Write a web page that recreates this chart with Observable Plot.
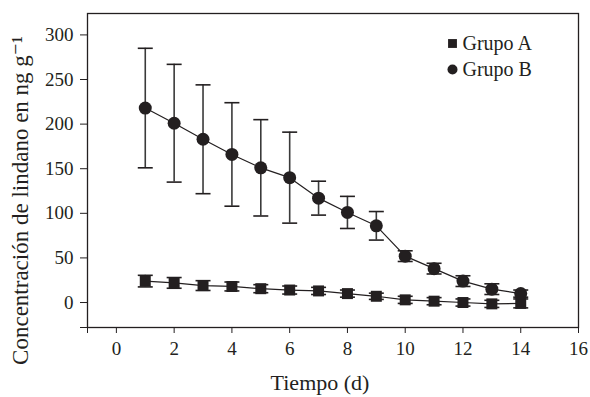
<!DOCTYPE html>
<html>
<head>
<meta charset="utf-8">
<script src="https://cdn.jsdelivr.net/npm/d3@7"></script>
<script src="https://cdn.jsdelivr.net/npm/@observablehq/plot@0.6"></script>
<style>
  html, body { margin: 0; padding: 0; background: #fff; }
  #chart { width: 590px; height: 397px; }
  #chart svg, #chart svg text { font-family: "Liberation Serif", "DejaVu Serif", serif !important; }
</style>
</head>
<body>
<div id="chart"></div>
<script>
const days = [1, 2, 3, 4, 5, 6, 7, 8, 9, 10, 11, 12, 13, 14];
const grupoAMean = [24, 22, 19, 18, 15.5, 14, 13, 10, 7, 3, 1.5, 0, -1.5, -1];
const grupoAErr  = [6.5, 6, 5.5, 5, 4.5, 4.5, 4, 4, 3.5, 4, 4, 4, 4, 5];
const grupoBMean = [218, 201, 183, 166, 151, 140, 117, 101, 86, 52, 38, 24, 15, 10];
const grupoBErr  = [67, 66, 61, 58, 54, 51, 19, 18, 16, 6, 6, 6, 6, 4];
const xTicks = [-1, 0, 2, 4, 6, 8, 10, 12, 14, 16];
const yTicks = [-28, 0, 50, 100, 150, 200, 250, 300];
const legendLabels = ["Grupo A", "Grupo B"];
const xLabel = "Tiempo (d)";
const yLabel = "Concentración de lindano en ng g\u207B\u00B9";

const ink = "#231f20";
const barInk = "#3a3a3a";
const font = "Liberation Serif";

const A = days.map((d, i) => ({d, m: grupoAMean[i], e: grupoAErr[i]}));
const B = days.map((d, i) => ({d, m: grupoBMean[i], e: grupoBErr[i]}));

const cap = {
  draw(ctx, size) {
    const r = Math.sqrt(size / Math.PI);
    ctx.moveTo(-r, 0);
    ctx.lineTo(r, 0);
  }
};

function errMarks(data, capR) {
  return [
    Plot.ruleX(data, {x: "d", y1: d => d.m - d.e, y2: d => d.m + d.e, stroke: barInk, strokeWidth: 1.6}),
    Plot.dot(data, {x: "d", y: d => d.m + d.e, symbol: cap, r: capR, stroke: ink, strokeWidth: 1.6, fill: "none"}),
    Plot.dot(data, {x: "d", y: d => d.m - d.e, symbol: cap, r: capR, stroke: ink, strokeWidth: 1.6, fill: "none"})
  ];
}

const chart = Plot.plot({
  width: 590,
  height: 397,
  marginLeft: 87,
  marginRight: 12,
  marginTop: 13,
  marginBottom: 70,
  style: {fontFamily: font, fontSize: "18px", color: ink, background: "#fff", overflow: "visible"},
  x: {domain: [-1, 16]},
  y: {domain: [-28, 324]},
  marks: [
    Plot.axisX({ticks: xTicks, tickSize: 6, tickPadding: 8, tickFormat: d => d < 0 ? "" : d, label: null, stroke: ink, fontSize: 19, fontFamily: font}),
    Plot.axisY({ticks: yTicks, tickSize: 7, tickPadding: 7, tickFormat: d => d < 0 ? "" : d, label: null, stroke: ink, fontSize: 19, fontFamily: font}),
    Plot.frame({stroke: ink, strokeWidth: 1.3}),
    ...errMarks(A, 7.5),
    ...errMarks(B, 7.5),
    Plot.line(A, {x: "d", y: "m", stroke: ink, strokeWidth: 1.2}),
    Plot.line(B, {x: "d", y: "m", stroke: ink, strokeWidth: 1.2}),
    Plot.dot(A, {x: "d", y: "m", symbol: "square", r: 6.2, fill: ink}),
    Plot.dot(B, {x: "d", y: "m", symbol: "circle", r: 6.5, fill: ink}),
    Plot.dot([legendLabels[0]], {frameAnchor: "top-right", dx: -126, dy: 30, symbol: "square", r: 5, fill: ink}),
    Plot.dot([legendLabels[1]], {frameAnchor: "top-right", dx: -126, dy: 56, symbol: "circle", r: 5, fill: ink}),
    Plot.text([legendLabels[0]], {frameAnchor: "top-right", dx: -116, dy: 30, text: d => d, textAnchor: "start", lineAnchor: "middle", fill: ink, fontSize: 20, fontFamily: font}),
    Plot.text([legendLabels[1]], {frameAnchor: "top-right", dx: -116, dy: 56, text: d => d, textAnchor: "start", lineAnchor: "middle", fill: ink, fontSize: 20, fontFamily: font}),
    Plot.text([xLabel], {frameAnchor: "bottom", dx: -13, dy: 55, text: d => d, textAnchor: "middle", lineAnchor: "middle", fill: ink, fontSize: 22, fontFamily: font}),
    Plot.text([yLabel], {frameAnchor: "left", dx: -67, dy: 30, rotate: -90, text: d => d, textAnchor: "middle", lineAnchor: "middle", fill: ink, fontSize: 23, fontFamily: font})
  ]
});
document.getElementById("chart").appendChild(chart);
</script>
</body>
</html>
